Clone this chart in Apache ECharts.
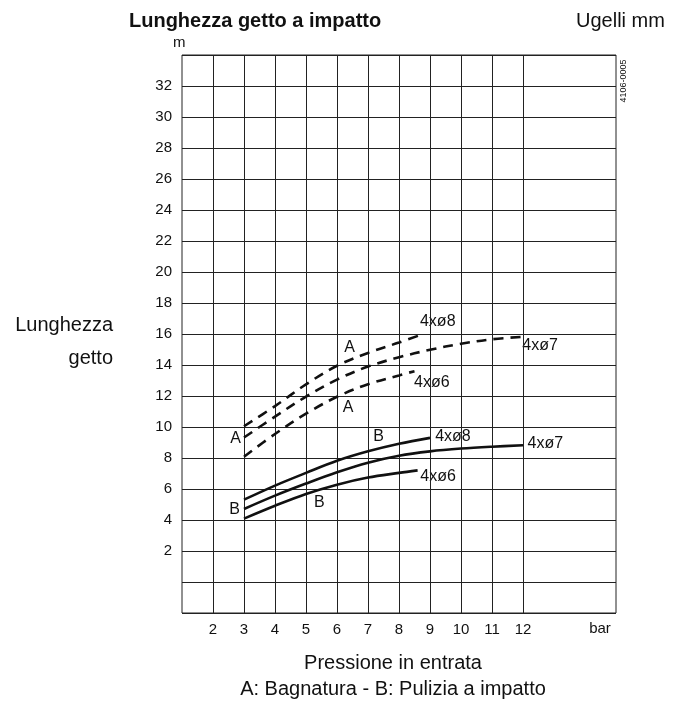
<!DOCTYPE html>
<html>
<head>
<meta charset="utf-8">
<script src="https://cdn.jsdelivr.net/npm/echarts@6/dist/echarts.min.js"></script>
<style>
html,body{margin:0;padding:0;background:#fff;}
#chart{width:680px;height:706px;}
</style>
</head>
<body>
<div id="chart"></div>
<script>
// ---- Data (pressure in bar, jet length in m) ----
const xTickValues = [2, 3, 4, 5, 6, 7, 8, 9, 10, 11, 12];
const yTickValues = [2, 4, 6, 8, 10, 12, 14, 16, 18, 20, 22, 24, 26, 28, 30, 32];

// A: Bagnatura (dashed)
const a8_x = [3, 4, 5, 6, 7, 8, 8.75];
const a8_y = [10.05, 11.35, 12.75, 13.95, 14.78, 15.45, 15.98];
const a7_x = [3, 4, 5, 6, 7, 8, 9, 10, 11, 12];
const a7_y = [9.32, 10.67, 11.96, 13.06, 13.9, 14.5, 14.98, 15.37, 15.66, 15.82];
const a6_x = [3, 4, 5, 6, 7, 8, 8.5];
const a6_y = [8.08, 9.55, 10.86, 11.95, 12.76, 13.33, 13.6];

// B: Pulizia a impatto (solid)
const b8_x = [3, 4, 5, 6, 7, 8, 9];
const b8_y = [5.31, 6.22, 7.04, 7.82, 8.43, 8.92, 9.3];
const b7_x = [3, 4, 5, 6, 7, 8, 9, 10, 11, 12];
const b7_y = [4.71, 5.57, 6.35, 7.08, 7.7, 8.15, 8.43, 8.61, 8.73, 8.82];
const b6_x = [3, 4, 5, 6, 7, 8, 8.6];
const b6_y = [4.09, 4.92, 5.68, 6.28, 6.74, 7.04, 7.2];

// Curve annotations [pressure, length, text]
const annotations = [
  [9.25, 16.78, '4xø8'],
  [12.55, 15.25, '4xø7'],
  [9.06, 12.85, '4xø6'],
  [6.41, 15.12, 'A'],
  [6.36, 11.27, 'A'],
  [2.73, 9.22, 'A'],
  [7.34, 9.38, 'B'],
  [9.74, 9.4, '4xø8'],
  [12.72, 8.94, '4xø7'],
  [9.26, 6.77, '4xø6'],
  [5.43, 5.1, 'B'],
  [2.7, 4.64, 'B']
];

const zip = (xs, ys) => xs.map((x, i) => [x, ys[i]]);
const FONT = '"Liberation Sans", Arial, Helvetica, sans-serif';
const INK = '#111111';

function curve(name, xs, ys, dashed) {
  return {
    name: name,
    type: 'line',
    data: zip(xs, ys),
    smooth: 0.35,
    showSymbol: false,
    symbol: 'none',
    silent: true,
    lineStyle: {
      color: '#111',
      width: 2.6,
      type: dashed ? [10, 7] : 'solid',
      cap: 'butt'
    },
    z: 5
  };
}

const chart = echarts.init(document.getElementById('chart'), null, {renderer: 'canvas'});
chart.setOption({
  animation: false,
  backgroundColor: '#fff',
  textStyle: {fontFamily: FONT, color: INK},
  grid: {
    left: 182, right: 64, top: 55, bottom: 93,
    show: true, borderColor: '#222', borderWidth: 1, backgroundColor: 'transparent'
  },
  title: [
    {text: 'Lunghezza getto a impatto', left: 124, top: 6,
     textStyle: {fontFamily: FONT, fontSize: 20, fontWeight: 'bold', color: INK}},
    {text: 'Ugelli mm', left: 571, top: 6,
     textStyle: {fontFamily: FONT, fontSize: 20, fontWeight: 'normal', color: INK}}
  ],
  xAxis: {
    type: 'value', min: 1, max: 15, interval: 1,
    axisLine: {show: false}, axisTick: {show: false}, splitLine: {show: false},
    axisLabel: {
      margin: 9, fontSize: 15, color: INK, fontFamily: FONT,
      formatter: v => (xTickValues.indexOf(v) >= 0 ? String(v) : '')
    }
  },
  yAxis: {
    type: 'value', min: -2, max: 34, interval: 2,
    axisLine: {show: false}, axisTick: {show: false},
    splitLine: {show: true, lineStyle: {color: '#222', width: 1}},
    axisLabel: {
      margin: 10, fontSize: 15, color: INK, fontFamily: FONT,
      formatter: v => (yTickValues.indexOf(v) >= 0 ? String(v) : '')
    }
  },
  series: [
    {
      type: 'line', data: [], silent: true,
      markLine: {
        silent: true, symbol: ['none', 'none'], label: {show: false},
        lineStyle: {color: '#222', width: 1, type: 'solid'},
        data: xTickValues.map(v => ({xAxis: v}))
      },
      z: 1
    },
    curve('A 4xø8', a8_x, a8_y, true),
    curve('A 4xø7', a7_x, a7_y, true),
    curve('A 4xø6', a6_x, a6_y, true),
    curve('B 4xø8', b8_x, b8_y, false),
    curve('B 4xø7', b7_x, b7_y, false),
    curve('B 4xø6', b6_x, b6_y, false),
    {
      type: 'scatter', silent: true, symbolSize: 1,
      itemStyle: {color: 'rgba(0,0,0,0)'},
      data: annotations.map(a => ({value: [a[0], a[1]], name: a[2]})),
      label: {
        show: true, position: 'inside', formatter: p => p.name,
        fontSize: 16, color: INK, fontFamily: FONT,
        backgroundColor: '#ffffff', padding: [0, 1],
        textBorderWidth: 0, textBorderColor: 'transparent', opacity: 1
      },
      z: 4
    }
  ],
  graphic: [
    {type: 'text', left: 173, top: 35, style: {text: 'm', font: '15px ' + FONT, fill: INK}},
    {type: 'text', x: 113, y: 325, style: {text: 'Lunghezza', font: '20px ' + FONT, fill: INK, align: 'right', verticalAlign: 'middle'}},
    {type: 'text', x: 113, y: 358, style: {text: 'getto', font: '20px ' + FONT, fill: INK, align: 'right', verticalAlign: 'middle'}},
    {type: 'text', x: 600, y: 629, style: {text: 'bar', font: '15px ' + FONT, fill: INK, align: 'center', verticalAlign: 'middle'}},
    {type: 'text', x: 393, y: 663, style: {text: 'Pressione in entrata', font: '20px ' + FONT, fill: INK, align: 'center', verticalAlign: 'middle'}},
    {type: 'text', x: 393, y: 689, style: {text: 'A: Bagnatura - B: Pulizia a impatto', font: '20px ' + FONT, fill: INK, align: 'center', verticalAlign: 'middle'}},
    {type: 'text', x: 623.5, y: 81, rotation: Math.PI / 2,
     style: {text: '4106-0005', font: '9px ' + FONT, fill: INK, align: 'center', verticalAlign: 'middle'}}
  ]
});
</script>
</body>
</html>
